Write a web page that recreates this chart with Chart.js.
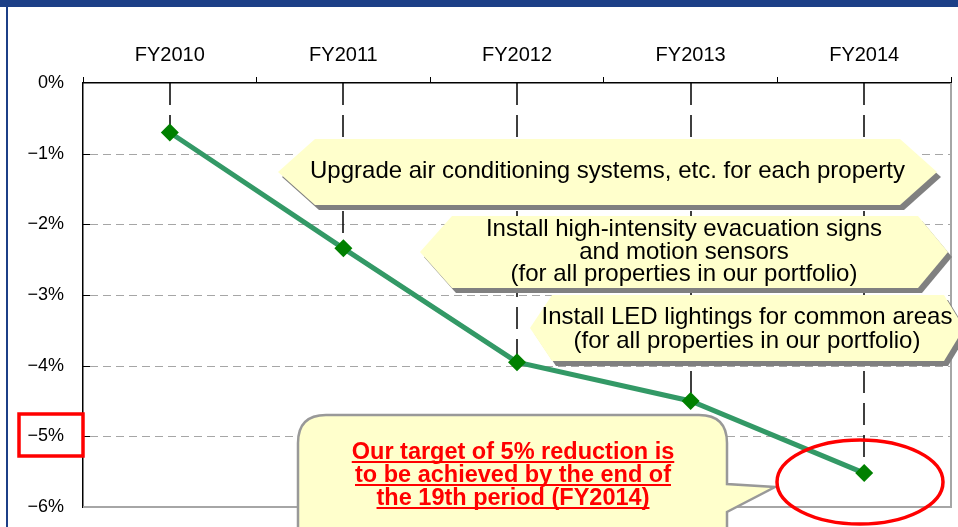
<!DOCTYPE html>
<html>
<head>
<meta charset="utf-8">
<script src="https://cdn.jsdelivr.net/npm/chart.js@4/dist/chart.umd.min.js"></script>
<style>
  html, body { margin: 0; padding: 0; background: #fff; }
  canvas { display: block; }
</style>
</head>
<body>
<canvas id="chart" width="958" height="527"></canvas>
<script>
// Data
const categories = ['FY2010', 'FY2011', 'FY2012', 'FY2013', 'FY2014'];
const reductionRate = [-0.7, -2.34, -3.95, -4.5, -5.52];
const yMin = -6;
const yMax = 0;

// Annotation texts
const measure1 = ['Upgrade air conditioning systems, etc. for each property'];
const measure2 = ['Install high-intensity evacuation signs', 'and motion sensors', '(for all properties in our portfolio)'];
const measure3 = ['Install LED lightings for common areas', '(for all properties in our portfolio)'];
const targetNote = ['Our target of 5% reduction is', 'to be achieved by the end of', 'the 19th period (FY2014)'];

const FONT = "'Liberation Sans', Arial, sans-serif";

// arrow shaped callout with a drop shadow
function drawArrowBox(ctx, box, lines) {
    const midY = (box.top + box.bottom) / 2;
    const path = (dx, dy) => {
        ctx.beginPath();
        ctx.moveTo(box.left + dx, midY + dy);
        ctx.lineTo(box.left + box.tipL + dx, box.top + dy);
        ctx.lineTo(box.right - box.tipR + dx, box.top + dy);
        ctx.lineTo(box.right + dx, midY + dy);
        ctx.lineTo(box.right - box.tipR + dx, box.bottom + dy);
        ctx.lineTo(box.left + box.tipL + dx, box.bottom + dy);
        ctx.closePath();
    };
    ctx.fillStyle = '#808080';
    path(4, 5);
    ctx.fill();
    ctx.fillStyle = '#ffffcc';
    path(0, 0);
    ctx.fill();

    ctx.fillStyle = '#000';
    ctx.font = '24px ' + FONT;
    ctx.textAlign = 'center';
    ctx.textBaseline = 'middle';
    const cx = (box.left + box.right) / 2;
    lines.forEach((t, i) => ctx.fillText(t, cx, box.textY[i]));
}

function drawBubble(ctx) {
    const l = 298, r = 727, t = 415, b = 560, rad = 28;
    ctx.beginPath();
    ctx.moveTo(l + rad, t);
    ctx.lineTo(r - rad, t);
    ctx.quadraticCurveTo(r, t, r, t + rad);
    ctx.lineTo(r, 484);
    ctx.lineTo(775, 487);
    ctx.lineTo(r, 512);
    ctx.lineTo(r, b - rad);
    ctx.quadraticCurveTo(r, b, r - rad, b);
    ctx.lineTo(l + rad, b);
    ctx.quadraticCurveTo(l, b, l, b - rad);
    ctx.lineTo(l, t + rad);
    ctx.quadraticCurveTo(l, t, l + rad, t);
    ctx.closePath();
    ctx.fillStyle = '#ffffcc';
    ctx.fill();
    ctx.strokeStyle = '#999999';
    ctx.lineWidth = 2.5;
    ctx.stroke();

    ctx.fillStyle = '#ff0000';
    ctx.strokeStyle = '#ff0000';
    ctx.lineWidth = 2;
    ctx.font = 'bold 23.5px ' + FONT;
    ctx.textAlign = 'center';
    ctx.textBaseline = 'alphabetic';
    const ys = [459, 482, 505];
    targetNote.forEach((txt, i) => {
        ctx.fillText(txt, 513, ys[i]);
        const w = ctx.measureText(txt).width;
        ctx.beginPath();
        ctx.moveTo(513 - w / 2, ys[i] + 3);
        ctx.lineTo(513 + w / 2, ys[i] + 3);
        ctx.stroke();
    });
}

const decorPlugin = {
    id: 'decor',
    beforeDraw(chart) {
        const ctx = chart.ctx;
        ctx.save();
        ctx.fillStyle = '#fff';
        ctx.fillRect(0, 0, chart.width, chart.height);
        ctx.restore();
    },
    beforeDatasetsDraw(chart) {
        const ctx = chart.ctx;
        const area = chart.chartArea;
        const y = chart.scales.y;
        ctx.save();

        // dashed horizontal grid + short inward ticks
        for (let v = -1; v > yMin; v--) {
            const py = Math.round(y.getPixelForValue(v)) + 0.5;
            ctx.strokeStyle = '#a6a6a6';
            ctx.lineWidth = 1;
            ctx.setLineDash([8, 5]);
            ctx.beginPath();
            ctx.moveTo(area.left + 7, py);
            ctx.lineTo(area.right, py);
            ctx.stroke();
            ctx.setLineDash([]);
            ctx.strokeStyle = '#000';
            ctx.beginPath();
            ctx.moveTo(area.left, py);
            ctx.lineTo(area.left + 7, py);
            ctx.stroke();
        }

        // right and bottom frame
        ctx.strokeStyle = '#a6a6a6';
        ctx.lineWidth = 2;
        ctx.beginPath();
        ctx.moveTo(area.right, area.top);
        ctx.lineTo(area.right, area.bottom);
        ctx.lineTo(area.left, area.bottom);
        ctx.stroke();

        // drop lines from the axis to each point
        const meta = chart.getDatasetMeta(0);
        ctx.strokeStyle = '#000';
        ctx.lineWidth = 1.5;
        ctx.setLineDash([22, 10]);
        meta.data.forEach(pt => {
            ctx.beginPath();
            ctx.moveTo(Math.round(pt.x), area.top);
            ctx.lineTo(Math.round(pt.x), pt.y);
            ctx.stroke();
        });
        ctx.setLineDash([]);

        // measure callouts
        drawArrowBox(ctx, { left: 278, right: 937, top: 139, bottom: 205, tipL: 37, tipR: 37, textY: [171] }, measure1);
        drawArrowBox(ctx, { left: 420, right: 948, top: 216, bottom: 288, tipL: 32, tipR: 30, textY: [229, 252, 274] }, measure2);
        drawArrowBox(ctx, { left: 530, right: 964, top: 295, bottom: 361, tipL: 22, tipR: 20, textY: [317, 341] }, measure3);

        drawBubble(ctx);
        ctx.restore();
    },
    afterDatasetsDraw(chart) {
        const ctx = chart.ctx;
        ctx.save();
        ctx.strokeStyle = '#ff0000';
        ctx.lineWidth = 3.5;
        ctx.beginPath();
        ctx.ellipse(860, 482, 83, 42, 0, 0, Math.PI * 2);
        ctx.stroke();
        ctx.strokeRect(19, 414, 64, 42);

        // blue frame
        ctx.fillStyle = '#1c3f87';
        ctx.fillRect(0, 0, chart.width, 7);
        ctx.fillRect(6, 0, 2, chart.height);
        ctx.restore();
    }
};

const chart = new Chart(document.getElementById('chart'), {
    type: 'line',
    data: {
        labels: categories,
        datasets: [{
            data: reductionRate,
            borderColor: '#339966',
            borderWidth: 5,
            pointStyle: 'rectRot',
            pointRadius: 9,
            pointBackgroundColor: '#008000',
            pointBorderColor: '#008000',
            pointBorderWidth: 0,
            tension: 0
        }]
    },
    options: {
        responsive: false,
        animation: false,
        devicePixelRatio: 1,
        layout: { autoPadding: false, padding: { left: 0, top: 0, right: 7, bottom: 20 } },
        plugins: {
            legend: { display: false },
            tooltip: { enabled: false }
        },
        scales: {
            x: {
                position: 'top',
                offset: true,
                afterFit: s => { s.height = 83; s.paddingLeft = 0; s.paddingRight = 0; },
                grid: {
                    offset: true,
                    drawOnChartArea: false,
                    drawTicks: true,
                    tickLength: 6,
                    tickColor: '#000',
                    tickWidth: 1
                },
                border: { color: '#000', width: 1.5 },
                ticks: {
                    color: '#000',
                    padding: 10,
                    font: { family: FONT, size: 20 }
                }
            },
            y: {
                min: yMin,
                max: yMax,
                afterFit: s => { s.width = 83; s.paddingTop = 0; s.paddingBottom = 0; },
                grid: { display: false },
                border: { color: '#000', width: 1.5 },
                ticks: {
                    stepSize: 1,
                    color: '#000',
                    padding: 11,
                    font: { family: FONT, size: 18 },
                    callback: v => v === 0 ? '0%' : '\u2212' + Math.abs(v) + '%'
                }
            }
        }
    },
    plugins: [decorPlugin]
});
</script>
</body>
</html>
